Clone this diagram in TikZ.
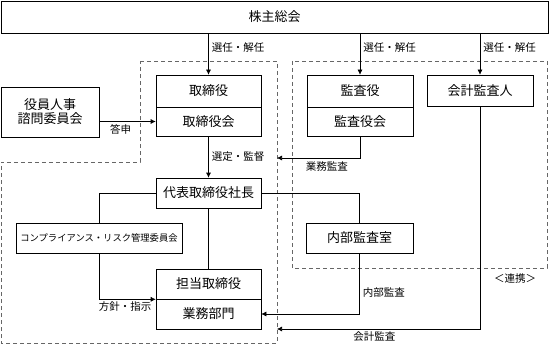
\documentclass[tikz,border=0pt]{standalone}
\usepackage{fontspec}
\setmainfont{Noto Sans CJK JP}
\usetikzlibrary{arrows.meta, positioning}

\begin{document}
\begin{tikzpicture}[
  x=1pt, y=-1pt,
  box/.style={rectangle, draw=black, line width=0.6pt, inner sep=0pt,
              font=\fontsize{13}{15}\selectfont, align=center},
  small/.style={font=\fontsize{9.3}{11}\selectfont},
  lbl/.style={font=\fontsize{10.5}{12}\selectfont, inner sep=2pt},
  arrow/.style={-{Latex[length=5pt, width=5pt]}, line width=0.6pt},
  link/.style={line width=0.6pt},
  region/.style={draw=gray!80!black, line width=0.8pt, dash pattern=on 4pt off 3pt}
]
\useasboundingbox (0,0) rectangle (549,345);

% dashed regions
\draw[region] (140,61) -- (277,61) -- (277,343) -- (1,343) -- (1,162) -- (140,162) -- cycle;
\draw[region] (292,61) rectangle (547,268);
\node[lbl] (renkei) at (515,279) {＜連携＞};

\node[box, minimum width=547pt, minimum height=32pt] (soukai) at (274.5,17) {株主総会};

\node[box, minimum width=105pt, minimum height=32pt] (tori)     at (208.5,91)  {取締役};
\node[box, minimum width=105pt, minimum height=29pt] (torikai)  at (208.5,121.5) {取締役会};
\node[box, minimum width=106pt, minimum height=32pt] (kansa)    at (360,91)    {監査役};
\node[box, minimum width=106pt, minimum height=29pt] (kansakai) at (360,121.5) {監査役会};
\node[box, minimum width=106pt, minimum height=31pt] (kaikei)   at (480,90.5)  {会計監査人};
\node[box, minimum width=98pt, minimum height=50pt]  (shimon)   at (50,112)    {役員人事\\[-1pt]諮問委員会};

\node[box, minimum width=105pt, minimum height=30pt] (shacho)   at (208.5,193) {代表取締役社長};
\node[box, small, minimum width=166pt, minimum height=30pt] (comp) at (99,238) {コンプライアンス・リスク管理委員会};
\node[box, minimum width=107pt, minimum height=30pt] (naibu)    at (359.5,238) {内部監査室};
\node[box, minimum width=105pt, minimum height=30pt] (tanto)    at (208.5,284) {担当取締役};
\node[box, minimum width=105pt, minimum height=30pt] (gyomu)    at (208.5,314) {業務部門};

\coordinate (edge1) at (277,158);
\coordinate (edge2) at (277,329);

\foreach \n in {tori, kansa, kaikei}
  \draw[arrow] (soukai.south -| \n.north) -- (\n.north)
    node[lbl, pos=0.35, right, xshift=1pt] {選任・解任};

\draw[arrow] (shimon.east |- torikai.west) -- (torikai.west)
  node[lbl, pos=0.38, below=1pt] {答申};
\draw[arrow] (torikai.south) -- (shacho.north)
  node[lbl, pos=0.5, right, xshift=1pt] {選定・監督};
\draw[arrow] (kansakai.south) |- (edge1)
  node[lbl, pos=0.7, below=1pt] {業務監査};

\draw[link] (shacho.west) -| (comp.north);
\draw[link] (shacho.east) -| (naibu.north);
\draw[link] (shacho.south) -- (tanto.north);
\draw[arrow] (comp.south) |- (tanto.south west)
  node[lbl, pos=0.73, below=0pt] {方針・指示};

\draw[arrow] (naibu.south) |- (gyomu.east)
  node[lbl, pos=0.32, right, xshift=1pt] {内部監査};
\draw[arrow] (kaikei.south) |- (edge2)
  node[lbl, pos=0.76, below=0pt] {会計監査};

\end{tikzpicture}
\end{document}
